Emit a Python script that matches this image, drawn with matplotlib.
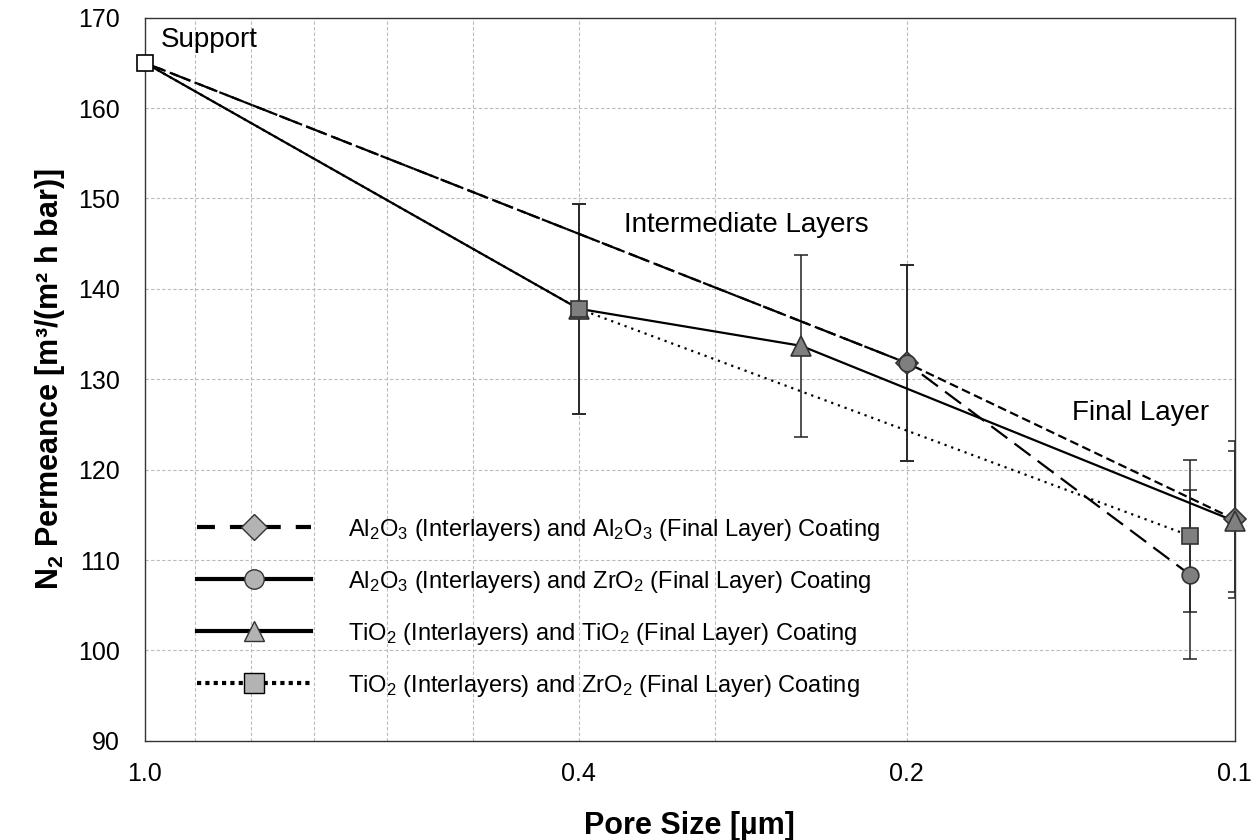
import numpy as np
import matplotlib
matplotlib.use("Agg")
import matplotlib.pyplot as plt
from matplotlib.lines import Line2D

plt.rcParams['font.family'] = ['Liberation Sans', 'DejaVu Sans']
plt.rcParams['mathtext.fontset'] = 'custom'
plt.rcParams['mathtext.rm'] = 'Liberation Sans'
plt.rcParams['mathtext.it'] = 'Liberation Sans'
plt.rcParams['mathtext.bf'] = 'Liberation Sans:bold'

# Al2O3 / Al2O3 (diamond)
x_al_al = [1.0, 0.2, 0.1]
y_al_al = [165.0, 131.8, 114.5]
e_al_al = [0.0, 10.8, 8.7]

# Al2O3 / ZrO2 (circle)
x_al_zr = [1.0, 0.2, 0.11]
y_al_zr = [165.0, 131.8, 108.4]
e_al_zr = [0.0, 10.8, 9.3]

# TiO2 / TiO2 (triangle)
x_ti_ti = [1.0, 0.4, 0.25, 0.1]
y_ti_ti = [165.0, 137.8, 133.7, 114.3]
e_ti_ti = [0.0, 11.6, 10.1, 7.8]

# TiO2 / ZrO2 (square)
x_ti_zr = [1.0, 0.4, 0.11]
y_ti_zr = [165.0, 137.8, 112.7]
e_ti_zr = [0.0, 11.6, 8.4]

labels = [
    "Al$_2$O$_3$ (Interlayers) and Al$_2$O$_3$ (Final Layer) Coating",
    "Al$_2$O$_3$ (Interlayers) and ZrO$_2$ (Final Layer) Coating",
    "TiO$_2$ (Interlayers) and TiO$_2$ (Final Layer) Coating",
    "TiO$_2$ (Interlayers) and ZrO$_2$ (Final Layer) Coating",
]

x_ticks = [1.0, 0.4, 0.2, 0.1]
x_grid = [0.9, 0.8, 0.7, 0.6, 0.5, 0.4, 0.3, 0.2]

fig = plt.figure(figsize=(12.6, 8.4), dpi=100)
ax = fig.add_axes([0.115, 0.118, 0.865, 0.861])

mcol = '#7f7f7f'
ecol = '#222222'

series = [
    (x_al_al, y_al_al, e_al_al, (0, (4, 2)), 'D', 11),
    (x_al_zr, y_al_zr, e_al_zr, (0, (9, 4)), 'o', 12),
    (x_ti_ti, y_ti_ti, e_ti_ti, '-', '^', 14),
    (x_ti_zr, y_ti_zr, e_ti_zr, (0, (1, 2.2)), 's', 12),
]
for xs, ys, es, ls, mk, ms in series:
    ax.plot(xs, ys, color='black', linestyle=ls, lw=1.6, zorder=3)
    ax.errorbar(xs[1:], ys[1:], yerr=es[1:], fmt='none', ecolor=ecol,
                elinewidth=1.1, capsize=5, capthick=1.1, zorder=2)
    ax.plot(xs[1:], ys[1:], linestyle='none', marker=mk, markersize=ms,
            markerfacecolor=mcol, markeredgecolor='#333333', markeredgewidth=1.2,
            zorder=4, clip_on=False)

# support point
ax.plot([x_ti_ti[0]], [y_ti_ti[0]], linestyle='none', marker='s', markersize=12,
        markerfacecolor='white', markeredgecolor='black', markeredgewidth=1.2,
        zorder=5, clip_on=False)

ax.set_xscale('log')
ax.set_xlim(1.0, 0.1)
ax.set_ylim(90, 170)
ax.set_xticks(x_ticks)
ax.set_xticklabels(["1.0", "0.4", "0.2", "0.1"])
ax.xaxis.set_minor_locator(plt.NullLocator())
ax.set_yticks(np.arange(90, 171, 10))
ax.tick_params(axis='both', labelsize=18, length=0)
ax.tick_params(axis='x', pad=15)
ax.tick_params(axis='y', pad=18)

for gx in x_grid:
    ax.axvline(gx, color='#bbbbbb', lw=0.8, ls=(0, (3, 2)), zorder=0)
for gy in np.arange(100, 170, 10):
    ax.axhline(gy, color='#bbbbbb', lw=0.8, ls=(0, (3, 2)), zorder=0)

for sp in ax.spines.values():
    sp.set_color('#333333')
    sp.set_linewidth(1.0)

ax.set_xlabel("Pore Size [µm]", fontsize=22, fontweight='bold', labelpad=18)
ax.set_ylabel("N$_\\mathbf{2}$ Permeance [m³/(m² h bar)]", fontsize=22, fontweight='bold', labelpad=8)

ax.text(0.967, 167.5, "Support", fontsize=20, ha='left', va='center')
ax.text(0.2805, 147.1, "Intermediate Layers", fontsize=20, ha='center', va='center')
ax.text(0.122, 126.3, "Final Layer", fontsize=20, ha='center', va='center')

lcol = '#b3b3b3'
handles = [
    Line2D([], [], color='black', lw=3, ls=(0, (4.3, 3.6)), marker='D', markersize=13,
           markerfacecolor=lcol, markeredgecolor='#333333'),
    Line2D([], [], color='black', lw=3, ls='-', marker='o', markersize=14,
           markerfacecolor=lcol, markeredgecolor='#333333'),
    Line2D([], [], color='black', lw=3, ls='-', marker='^', markersize=15,
           markerfacecolor=lcol, markeredgecolor='#333333'),
    Line2D([], [], color='black', lw=3, ls=(0, (1, 1)), marker='s', markersize=15,
           markerfacecolor=lcol, markeredgecolor='black'),
]
ax.legend(handles, labels, loc='upper left', bbox_to_anchor=(0.048, 0.310),
          frameon=False, fontsize=17, handlelength=4.8, handletextpad=1.6,
          labelspacing=1.1, borderpad=0, borderaxespad=0)

fig.savefig("out.png", dpi=100)
